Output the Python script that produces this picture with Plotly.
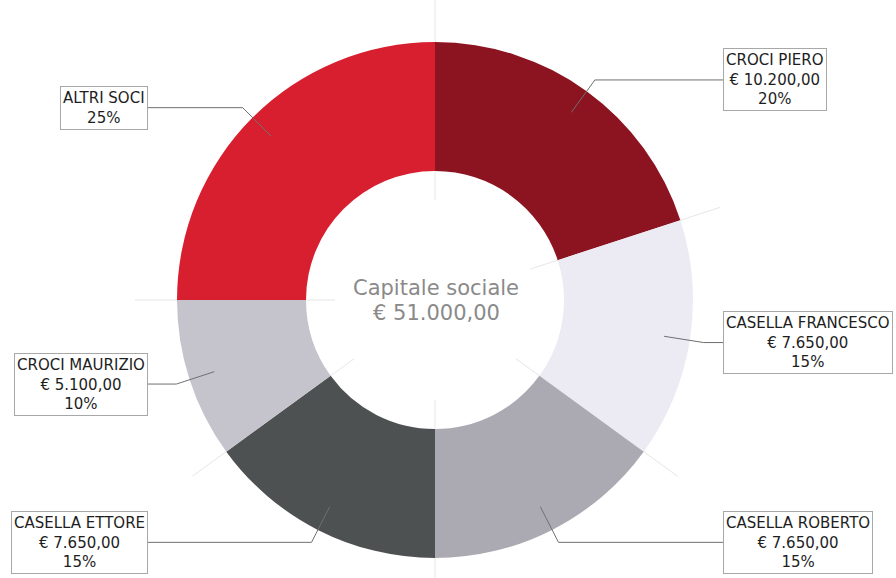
import math
import plotly.graph_objects as go

# ---- data ----
names = ["CROCI PIERO", "CASELLA FRANCESCO", "CASELLA ROBERTO",
         "CASELLA ETTORE", "CROCI MAURIZIO", "ALTRI SOCI"]
amounts = [10200, 7650, 7650, 7650, 5100, 12750]
show_amount = [True, True, True, True, True, False]
colors = ["#8c1320", "#ecebf3", "#abaab3", "#4e5152", "#c5c4cd", "#d81f2f"]
center_title = "Capitale sociale"

W, H = 896, 578
CX, CY, R = 435, 300, 258
HOLE = 0.5

total = sum(amounts)

def eur(v):
    s = f"{v:,.2f}"
    return "€ " + s.replace(",", "X").replace(".", ",").replace("X", ".")

fig = go.Figure()

fig.add_trace(go.Pie(
    labels=names, values=amounts, sort=False, direction="clockwise",
    rotation=0, hole=HOLE, textinfo="none", hoverinfo="label+value+percent",
    marker=dict(colors=colors, line=dict(width=0)),
    domain=dict(x=[(CX - R) / W, (CX + R) / W],
                y=[(H - CY - R) / H, (H - CY + R) / H]),
    showlegend=False,
))

# invisible pixel-space axes for annotations/shapes
fig.add_trace(go.Scatter(x=[0, W], y=[0, H], mode="markers",
                         marker=dict(opacity=0), hoverinfo="skip", showlegend=False))

shapes = []
annotations = []

# faint radial lines at slice boundaries
cum = 0
for v in amounts:
    ang = 2 * math.pi * cum / total
    x0, y0 = CX + 100 * math.sin(ang), CY - 100 * math.cos(ang)
    x1, y1 = CX + 300 * math.sin(ang), CY - 300 * math.cos(ang)
    shapes.append(dict(type="line", xref="x", yref="y", x0=x0, y0=y0, x1=x1, y1=y1,
                       line=dict(color="#e6e6e6", width=1), layer="below"))
    cum += v

# labels with leader lines
cum = 0
for name, v, show in zip(names, amounts, show_amount):
    mid = 2 * math.pi * (cum + v / 2) / total
    cum += v
    sx, sy = CX + 232 * math.sin(mid), CY - 232 * math.cos(mid)
    kx, ky = CX + 272 * math.sin(mid), CY - 272 * math.cos(mid)
    right = math.sin(mid) > 0
    bx = 723 if right else 148
    pct = f"{round(100 * v / total)}%"
    txt = name + ("<br>" + eur(v) if show else "") + "<br>" + pct
    shapes.append(dict(type="path", xref="x", yref="y",
                       path=f"M {sx},{sy} L {kx},{ky} L {bx},{ky}",
                       line=dict(color="#707070", width=1), layer="above"))
    annotations.append(dict(x=bx, y=ky, xref="x", yref="y", text=txt, showarrow=False,
                            xanchor="left" if right else "right", yanchor="middle",
                            font=dict(family="DejaVu Sans", size=15, color="#1e1e1e"),
                            bgcolor="white", bordercolor="#a8a8a8", borderwidth=1,
                            borderpad=2, align="center"))

# centre text
annotations.append(dict(x=CX + 1, y=CY - 12, xref="x", yref="y", text=center_title,
                        showarrow=False,
                        font=dict(family="DejaVu Sans", size=21, color="#8a8a8a"),
                        xanchor="center", yanchor="middle"))
annotations.append(dict(x=CX + 1, y=CY + 13, xref="x", yref="y", text=eur(total),
                        showarrow=False,
                        font=dict(family="DejaVu Sans", size=21, color="#8a8a8a"),
                        xanchor="center", yanchor="middle"))

fig.update_layout(
    width=W, height=H, margin=dict(l=0, r=0, t=0, b=0),
    paper_bgcolor="white", plot_bgcolor="rgba(0,0,0,0)",
    xaxis=dict(range=[0, W], visible=False, fixedrange=True, domain=[0, 1]),
    yaxis=dict(range=[H, 0], visible=False, fixedrange=True, domain=[0, 1]),
    shapes=shapes, annotations=annotations,
)

fig.write_html("out.html")
